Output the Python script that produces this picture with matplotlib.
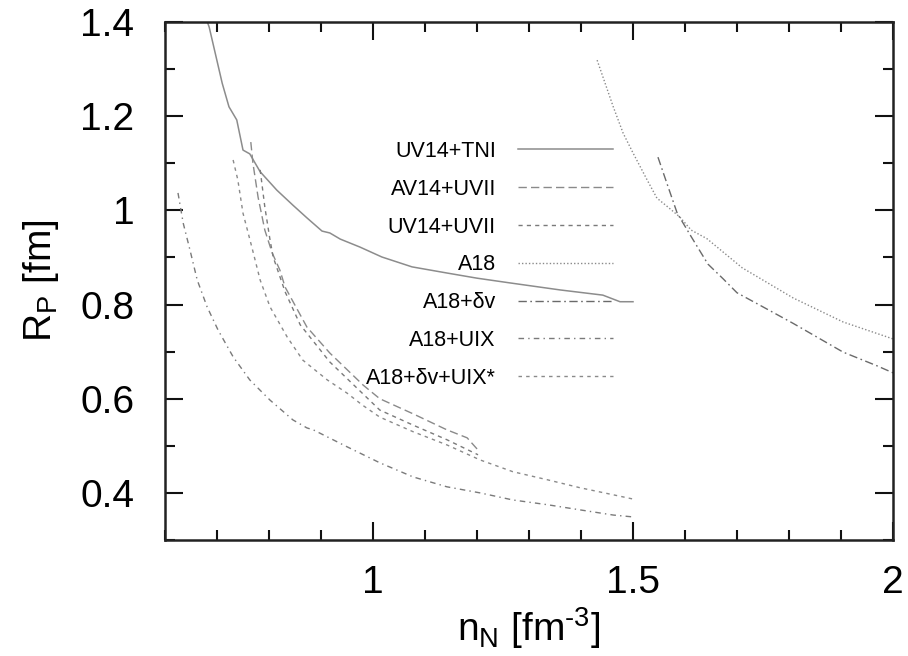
import matplotlib
matplotlib.use("Agg")
import matplotlib.pyplot as plt
from matplotlib.ticker import MultipleLocator

plt.rcParams["axes.unicode_minus"] = False
plt.rcParams["mathtext.fontset"] = "custom"
plt.rcParams["mathtext.rm"] = "Liberation Sans"

# ---- data ----
x_uv14_tni = [0.675, 0.685, 0.710, 0.723, 0.738, 0.750, 0.763, 0.783, 0.815, 0.846, 0.873, 0.902,
              0.917, 0.937, 0.975, 1.017, 1.075, 1.142, 1.200, 1.263, 1.360, 1.442, 1.475, 1.500]
r_uv14_tni = [1.42, 1.389, 1.270, 1.220, 1.192, 1.128, 1.120, 1.082, 1.043, 1.011, 0.984, 0.956,
              0.952, 0.939, 0.922, 0.901, 0.880, 0.867, 0.856, 0.846, 0.831, 0.820, 0.806, 0.806]

x_av14_uvii = [0.765, 0.769, 0.779, 0.792, 0.806, 0.821, 0.831, 0.873, 0.917, 0.981, 1.013,
               1.077, 1.142, 1.181, 1.202]
r_av14_uvii = [1.145, 1.101, 1.028, 0.958, 0.910, 0.873, 0.837, 0.752, 0.697, 0.629, 0.600,
               0.568, 0.534, 0.517, 0.491]

x_uv14_uvii = [0.783, 0.792, 0.802, 0.808, 0.831, 0.860, 0.917, 0.981, 1.013, 1.077, 1.142, 1.202]
r_uv14_uvii = [1.086, 1.007, 0.937, 0.901, 0.827, 0.757, 0.678, 0.610, 0.576, 0.544, 0.513, 0.481]

x_a18 = [1.431, 1.462, 1.481, 1.500, 1.527, 1.546, 1.565, 1.590, 1.612, 1.642, 1.710, 1.808, 1.904, 2.0]
r_a18 = [1.319, 1.220, 1.164, 1.122, 1.065, 1.026, 1.009, 0.986, 0.958, 0.940, 0.878, 0.814, 0.763, 0.727]

x_a18_dv = [1.548, 1.565, 1.585, 1.612, 1.644, 1.673, 1.700, 1.750, 1.808, 1.904, 1.969, 2.0]
r_a18_dv = [1.113, 1.058, 0.994, 0.944, 0.886, 0.855, 0.825, 0.795, 0.760, 0.699, 0.670, 0.655]

x_a18_uix = [0.625, 0.635, 0.648, 0.662, 0.681, 0.702, 0.731, 0.763, 0.802, 0.846, 0.873, 0.885,
             0.950, 1.013, 1.077, 1.142, 1.206, 1.269, 1.335, 1.398, 1.462, 1.500]
r_a18_uix = [1.037, 0.973, 0.916, 0.852, 0.795, 0.746, 0.689, 0.640, 0.597, 0.555, 0.538, 0.534,
             0.498, 0.464, 0.434, 0.413, 0.400, 0.385, 0.375, 0.364, 0.353, 0.349]

x_a18_dv_uix = [0.731, 0.740, 0.750, 0.767, 0.783, 0.802, 0.835, 0.865, 0.912, 0.950, 0.979, 1.013,
                1.077, 1.142, 1.206, 1.269, 1.335, 1.398, 1.462, 1.500]
r_a18_dv_uix = [1.107, 1.065, 0.994, 0.922, 0.852, 0.795, 0.731, 0.682, 0.640, 0.612, 0.587, 0.561,
                0.530, 0.502, 0.470, 0.445, 0.428, 0.411, 0.396, 0.387]

labels = ["UV14+TNI", "AV14+UVII", "UV14+UVII", "A18", "A18+δv", "A18+UIX", "A18+δv+UIX*"]
x_ticks = [1, 1.5, 2]
y_ticks = [0.4, 0.6, 0.8, 1.0, 1.2, 1.4]
y_ticklabels = ["0.4", "0.6", "0.8", "1", "1.2", "1.4"]
x_ticklabels = ["1", "1.5", "2"]

series = [
    (x_uv14_tni, r_uv14_tni, dict(color="#8c8c8c", ls="-", lw=1.1)),
    (x_av14_uvii, r_av14_uvii, dict(color="#8a8a8a", ls=(0, (6, 3)), lw=1.0)),
    (x_uv14_uvii, r_uv14_uvii, dict(color="#7a7a7a", ls=(0, (3, 3)), lw=1.0)),
    (x_a18, r_a18, dict(color="#8a8a8a", ls=(0, (1, 1.5)), lw=1.0)),
    (x_a18_dv, r_a18_dv, dict(color="#6a6a6a", ls=(0, (6, 2.5, 1.2, 2.5)), lw=1.0)),
    (x_a18_uix, r_a18_uix, dict(color="#7a7a7a", ls=(0, (4, 3, 1, 3)), lw=1.0)),
    (x_a18_dv_uix, r_a18_dv_uix, dict(color="#8a8a8a", ls=(0, (2.5, 3)), lw=1.0)),
]

fig = plt.figure(figsize=(9.08, 6.56), dpi=100)
ax = fig.add_axes([165/908, 1-540/656, (893-165)/908, (540-22)/656])

for (xs, ys, st), lab in zip(series, labels):
    ax.plot(xs, ys, label=lab, **st)

ax.set_xlim(0.6, 2.0)
ax.set_ylim(0.3, 1.4)
ax.set_xticks(x_ticks)
ax.set_xticklabels(x_ticklabels)
ax.set_yticks(y_ticks)
ax.set_yticklabels(y_ticklabels)
ax.xaxis.set_minor_locator(MultipleLocator(0.1))
ax.yaxis.set_minor_locator(MultipleLocator(0.1))
ax.tick_params(which="both", direction="in", top=True, right=True, width=1.5, color="#111111")
ax.tick_params(which="major", length=13)
ax.tick_params(which="minor", length=7)
ax.tick_params(axis="x", which="major", pad=18)
ax.tick_params(axis="y", which="major", pad=22)
for s in ax.spines.values():
    s.set_linewidth(1.8)
    s.set_color("#222222")

tick_fs = 28
for t in ax.get_xticklabels() + ax.get_yticklabels():
    t.set_family("Liberation Sans")
    t.set_fontsize(tick_fs)

ax.set_xlabel(r"n$_\mathregular{N}$ [fm$^{\text{-3}}$]", family="Liberation Sans",
              fontsize=tick_fs, labelpad=3)
ax.set_ylabel(r"R$_\mathregular{P}$ [fm]", family="Liberation Sans", fontsize=tick_fs, labelpad=14)

leg = ax.legend(loc="upper left", bbox_to_anchor=((366-165)/728, 1-(141-22)/518),
                frameon=False, markerfirst=False, borderpad=0, borderaxespad=0,
                handlelength=4.4, handletextpad=1.05, labelspacing=0.78,
                prop={"family": "Liberation Sans", "size": 15.5})
for col in leg._legend_handle_box.get_children():
    col.align = "right"

fig.savefig("out.png", dpi=100)
